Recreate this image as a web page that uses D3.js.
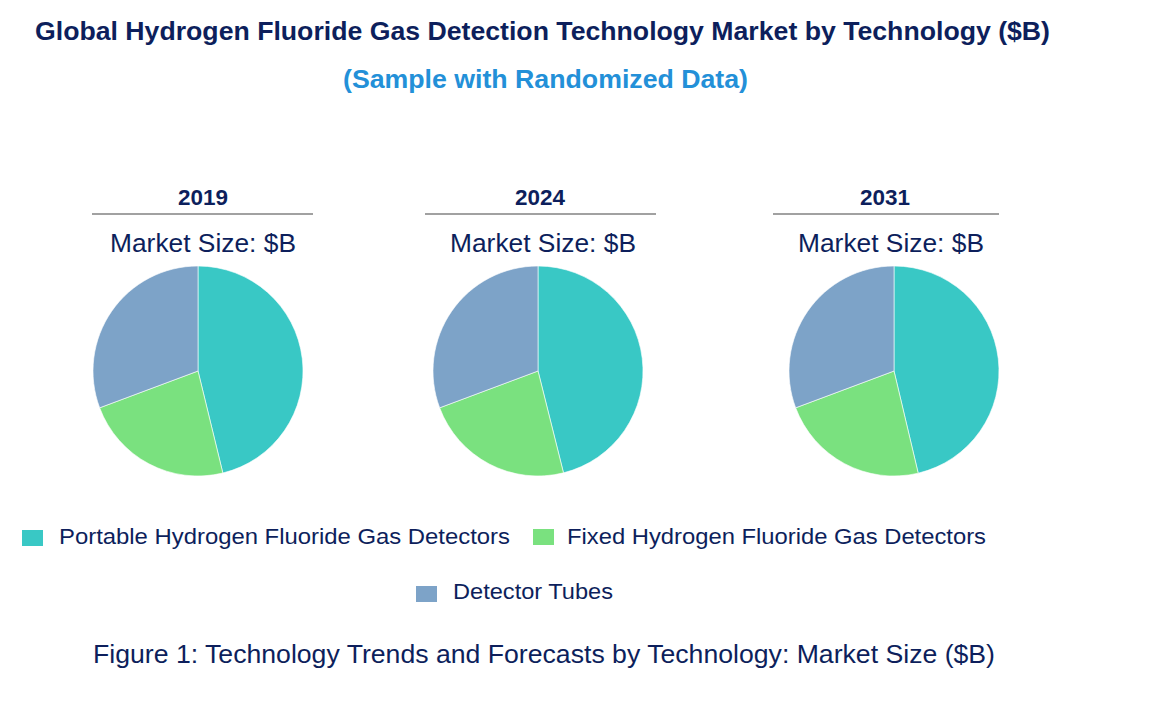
<!DOCTYPE html>
<html><head><meta charset="utf-8">
<script src="https://cdn.jsdelivr.net/npm/d3@7"></script>
<style>body{margin:0;background:#fff;} svg{display:block;font-family:"Liberation Sans",Arial,sans-serif;}</style>
</head><body>
<svg id="c" width="1170" height="727"></svg>
<script>
const years = ["2019", "2024", "2031"];
const technologies = ["Portable Hydrogen Fluoride Gas Detectors", "Fixed Hydrogen Fluoride Gas Detectors", "Detector Tubes"];
const portable = [0.462, 0.461, 0.463];
const fixed = [0.231, 0.232, 0.230];
const tubes = [0.307, 0.307, 0.307];
const colors = ["#39C8C5", "#7AE17F", "#7DA3C8"];

const svg = d3.select("#c");
const navy = "#0D1F5C";

function txt(x, y, size, weight, fill, len, s, anchor) {
  return svg.append("text").attr("x", x).attr("y", y).attr("text-anchor", anchor || "middle")
    .attr("font-size", size).attr("font-weight", weight).attr("fill", fill)
    .attr("textLength", len).attr("lengthAdjust", "spacingAndGlyphs").text(s);
}

txt(542.5, 40, 25, "bold", navy, 1015, "Global Hydrogen Fluoride Gas Detection Technology Market by Technology ($B)");
txt(545.5, 88, 25, "bold", "#2390D8", 405, "(Sample with Randomized Data)");

const centers = [198, 538, 894];
const lines = [[92, 313], [425, 656], [773, 999]];
const yearX = [203, 540, 885];
const sizeX = [203, 543, 891];
const r = 105;
const pie = d3.pie().sort(null).value(d => d).startAngle(0);
const arc = d3.arc().innerRadius(0).outerRadius(r);

years.forEach((y, i) => {
  txt(yearX[i], 205, 22, "bold", navy, 50, y);
  svg.append("line").attr("x1", lines[i][0]).attr("x2", lines[i][1]).attr("y1", 214).attr("y2", 214)
    .attr("stroke", "#444").attr("stroke-width", 1.2);
  txt(sizeX[i], 252, 25, "normal", navy, 186, "Market Size: $B");
  const vals = [portable[i], fixed[i], tubes[i]];
  const pg = svg.append("g").attr("transform", `translate(${centers[i]},371)`);
  pg.selectAll("path").data(pie(vals)).join("path")
    .attr("d", arc).attr("fill", (d, j) => colors[j])
    .attr("stroke", "#fff").attr("stroke-width", 0.6);
});

const legendPos = [[22, 530, 59, 544, 451], [533, 529, 567, 544, 419], [416, 586, 453, 599, 160]];
technologies.forEach((t, i) => {
  const p = legendPos[i];
  svg.append("rect").attr("x", p[0]).attr("y", p[1]).attr("width", 21).attr("height", 16).attr("fill", colors[i]);
  txt(p[2], p[3], 22, "normal", navy, p[4], t, "start");
});

txt(544, 663, 26, "normal", navy, 902, "Figure 1: Technology Trends and Forecasts by Technology: Market Size ($B)");
</script>
</body></html>
